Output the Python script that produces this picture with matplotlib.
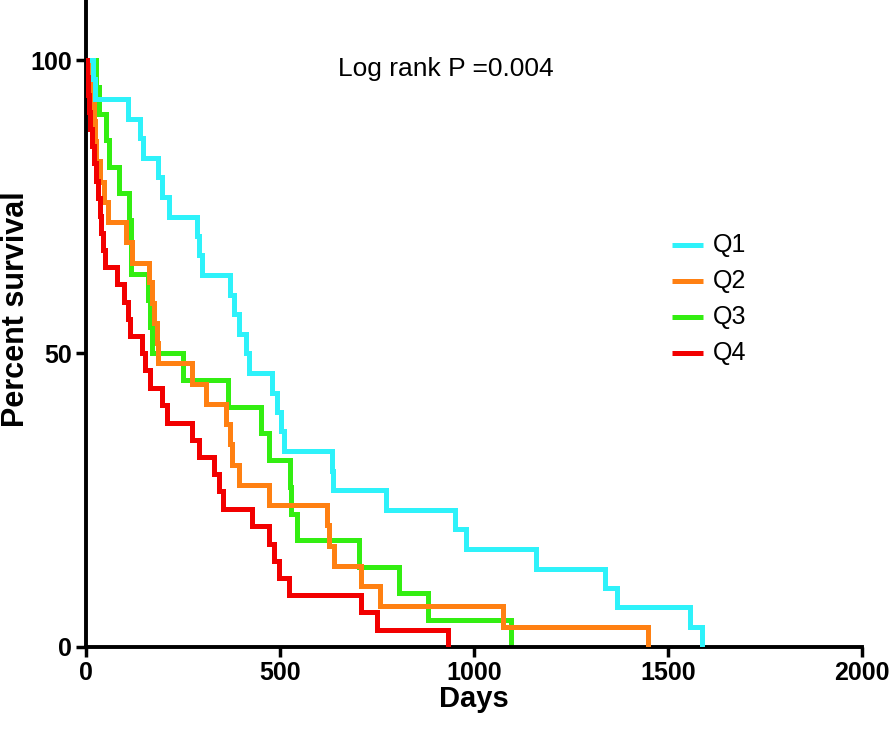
import matplotlib
matplotlib.use("Agg")
import matplotlib.pyplot as plt

# ----------- Data -------------------------------------
# day of each drop and survival (%) after that drop
q1_days = [18, 23, 108, 138, 146, 185, 195, 215, 285, 292, 300, 372, 382, 395, 413,
           421, 479, 492, 503, 510, 633, 636, 774, 951, 979, 1159, 1338, 1369, 1556, 1587]
q1_surv = [96.7, 93.3, 90.0, 86.7, 83.3, 80.0, 76.7, 73.3, 70.0, 66.7, 63.3, 60.0, 56.7, 53.3, 50.0,
           46.7, 43.3, 40.0, 36.7, 33.3, 30.0, 26.7, 23.3, 20.0, 16.7, 13.3, 10.0, 6.7, 3.3, 0]

q2_days = [10, 15, 20, 24, 26, 36, 46, 56, 103, 118, 162, 169, 174, 182, 185,
           274, 310, 362, 372, 377, 395, 472, 621, 626, 638, 710, 759, 1074, 1449]
q2_surv = [96.6, 93.1, 89.7, 86.2, 82.8, 79.3, 75.9, 72.4, 69.0, 65.5, 62.1, 58.6, 55.2, 51.7, 48.3,
           44.8, 41.4, 37.9, 34.5, 31.0, 27.6, 24.1, 20.7, 17.2, 13.8, 10.3, 6.9, 3.4, 0]

q3_days = [26, 33, 51, 59, 85, 110, 115, 117, 159, 164, 169,
           249, 367, 451, 472, 526, 528, 544, 703, 808, 882, 1095]
q3_surv = [95.5, 90.9, 86.4, 81.8, 77.3, 72.7, 68.2, 63.6, 59.1, 54.5, 50.0,
           45.5, 40.9, 36.4, 31.8, 27.3, 22.7, 18.2, 13.6, 9.1, 4.5, 0]

q4_days = [3, 5, 8, 10, 15, 21, 26, 31, 36, 38, 44, 49, 79, 97, 108, 113, 144,
           151, 164, 197, 208, 274, 292, 331, 344, 354, 428, 472, 485, 497, 523, 708, 751, 933]
q4_surv = [97.1, 94.1, 91.2, 88.2, 85.3, 82.4, 79.4, 76.5, 73.5, 70.6, 67.6, 64.7, 61.8, 58.8, 55.9, 52.9, 50.0,
           47.1, 44.1, 41.2, 38.2, 35.3, 32.4, 29.4, 26.5, 23.5, 20.6, 17.6, 14.7, 11.8, 8.8, 5.9, 2.9, 0]

labels = ["Q1", "Q2", "Q3", "Q4"]
colors = ["#2EF2FA", "#FF8012", "#33EE11", "#F20000"]
x_ticks = [0, 500, 1000, 1500, 2000]
y_ticks = [0, 50, 100]
# ------------------------------------------------------

plt.rcParams["font.family"] = ["Liberation Sans", "DejaVu Sans"]

fig = plt.figure(figsize=(8.96, 7.30), dpi=100)
ax = fig.add_axes([0.096, 0.114, 0.866, 0.884])

curves = [(q1_days, q1_surv), (q2_days, q2_surv), (q3_days, q3_surv), (q4_days, q4_surv)]
zorders = [4, 3, 2, 5]
for (days, surv), lab, col, z in zip(curves, labels, colors, zorders):
    ax.step([0] + days, [100] + surv, where="post", color=col, lw=3.6,
            label=lab, zorder=z, solid_joinstyle="miter")

ax.set_xlim(0, 2000)
ax.set_ylim(0, 110)
ax.set_xticks(x_ticks)
ax.set_yticks(y_ticks)
for lab in ax.get_xticklabels() + ax.get_yticklabels():
    lab.set_fontweight("bold")
ax.tick_params(axis="both", labelsize=18, width=2.5, length=7, direction="out", pad=3)

for side in ["top", "right"]:
    ax.spines[side].set_visible(False)
for side in ["left", "bottom"]:
    ax.spines[side].set_linewidth(2.8)

ax.set_xlabel("Days", fontsize=21, fontweight="bold", labelpad=0)
fig.text(16 / 896, 1 - 309 / 730, "Percent survival", rotation=90, ha="center",
         va="center", fontsize=22, fontweight="bold")

ax.text(0.464, 0.895, "Log rank P =0.004", transform=ax.transAxes, ha="center",
        va="center", fontsize=19)

# legend drawn by hand (short thick handles, as in the reference)
ax_w, ax_h = 776.0, 645.0
for i, (lab, col) in enumerate(zip(labels, colors)):
    yf = (647 - (245 + 36 * i)) / ax_h
    ax.plot([(672 - 86) / ax_w, (703 - 86) / ax_w], [yf, yf], color=col, lw=3.6,
            transform=ax.transAxes, solid_capstyle="butt", clip_on=False)
    ax.text((713 - 86) / ax_w, yf, lab, transform=ax.transAxes, va="center",
            ha="left", fontsize=18)

fig.savefig("out.png", dpi=100)
